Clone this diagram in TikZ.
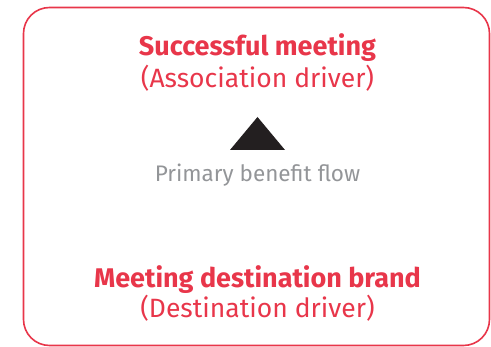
\documentclass[tikz,border=0pt]{standalone}
\usepackage{fontspec}
\setmainfont{Fira Sans}
\usetikzlibrary{positioning}
\definecolor{brandred}{RGB}{232,54,74}
\definecolor{flowgray}{RGB}{147,149,152}
\definecolor{arrowdark}{RGB}{35,31,32}
\tikzset{
  x=1pt,
  y=-1pt,
  frame/.style={
    draw=brandred,
    line width=1.6pt,
    rounded corners=26pt
  },
  title/.style={
    anchor=base,
    inner sep=0pt,
    text=brandred,
    font=\fontsize{27}{30}\selectfont\bfseries
  },
  subtitle/.style={
    anchor=base,
    inner sep=0pt,
    text=brandred,
    font=\fontsize{26.5}{30}\selectfont
  },
  flowlabel/.style={
    anchor=base,
    inner sep=0pt,
    text=flowgray,
    font=\fontsize{22.5}{26}\selectfont
  }
}
\begin{document}
\begin{tikzpicture}
\useasboundingbox (0,0) rectangle (491,347);
% outer box
\draw[frame] (23.5,7.5) rectangle (489.5,345.5);
% texts
\node[title]     (top)     at (257.5,56)  {Successful meeting};
\node[subtitle]  (topsub)  at (257.5,88)  {(Association driver)};
\node[flowlabel] (flow)    at (257.5,182) {Primary benefit flow};
\node[title]     (bottom)  at (257.5,288) {Meeting destination brand};
\node[subtitle]  (botsub)  at (257.5,318) {(Destination driver)};
% arrow head
\fill[arrowdark] (230,150) -- (257.5,117) -- (285,150) -- cycle;
\end{tikzpicture}
\end{document}
